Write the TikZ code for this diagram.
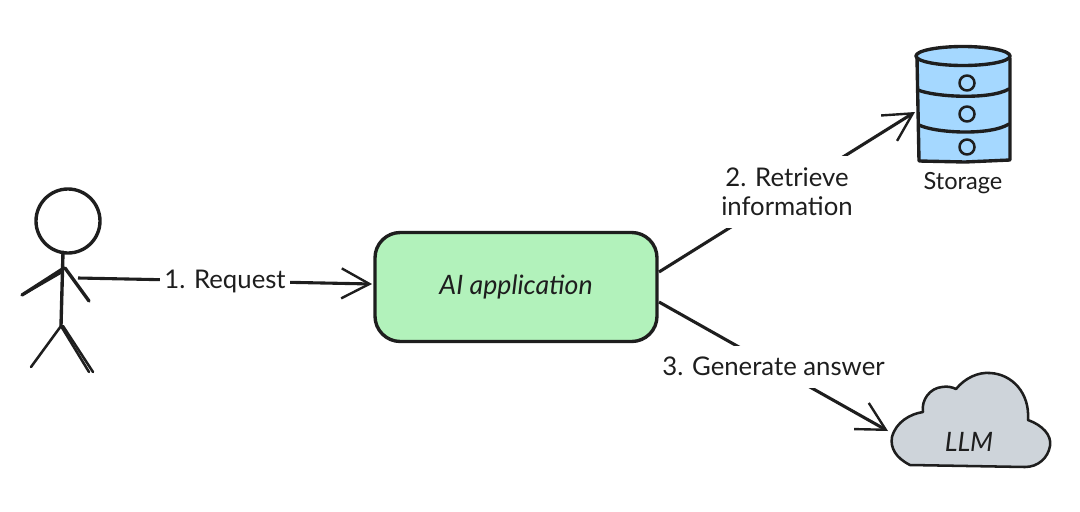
\documentclass[tikz,border=0pt]{standalone}
\usepackage{fontspec}
\setmainfont{Lato}
\usetikzlibrary{arrows.meta}

\definecolor{app_green}{HTML}{B2F2BB}
\definecolor{disk_blue}{HTML}{A5D8FF}
\definecolor{cloud_grey}{HTML}{CED4DA}
\definecolor{ink}{HTML}{1E1E1E}

\tikzset{
  ink_line/.style={draw=ink, line width=2.4pt, line cap=round, line join=round},
  thin_line/.style={draw=ink, line width=1.8pt, line cap=round, line join=round},
  flow/.style={draw=ink, line width=2.2pt, -{Straight Barb[length=7mm, width=7.5mm, line width=1.7pt]}},
  step_label/.style={fill=white, font=\fontsize{18.3}{20.6}\selectfont, text=ink, align=center, inner sep=0pt},
  shape_label/.style={font=\fontsize{19}{22}\selectfont\itshape, text=ink}
}

\begin{document}
\begin{tikzpicture}[x=0.25mm, y=-0.25mm]
\useasboundingbox (0,0) rectangle (1080,511);

% person
\draw[ink_line] (68,221) circle (32);
\draw[ink_line] (63,252) -- (61,326);
\draw[ink_line] (64,268) -- (22,295);
\draw[thin_line] (62,272) -- (24,294);
\draw[ink_line] (65,268) -- (89,301);
\draw[thin_line] (61,326) -- (31,367);
\draw[thin_line] (61,326) -- (89,372);
\draw[thin_line] (63,326) -- (93,372);
\coordinate (person) at (78,278);

% application
\node[draw=ink, fill=app_green, line width=2.4pt, rounded corners=18,
      minimum width=282*0.25mm, minimum height=109*0.25mm, shape_label] (app) at (516,287) {AI application};
\coordinate (app_in) at (372,284);
\coordinate (app_up) at (659,272);
\coordinate (app_down) at (659,302);

% storage
\fill[disk_blue] (918,56) -- (1010,56) -- (1010,161) -- (918,161) -- cycle;
\draw[ink_line, fill=disk_blue] (963,56) ellipse (47 and 9.5);
\draw[ink_line] (917,58) -- (919,161) -- (965,162) -- (1010,160) -- (1010,58);
\draw[ink_line] (918,90) .. controls (935,97) and (990,100) .. (1009,89);
\draw[ink_line] (919,125) .. controls (935,133) and (990,136) .. (1009,124);
\foreach \holey in {83,114,147}
  \draw[thin_line] (967,\holey) circle (7.5);
\node[font=\fontsize{16.8}{20}\selectfont, text=ink] (storage_label) at (963,183) {Storage};
\coordinate (storage_in) at (915,112);

% cloud
\draw[thin_line, fill=cloud_grey] (910,465) .. controls (896,458) and (890,448) .. (892,437)
  .. controls (896,422) and (910,414) .. (923,412)
  .. controls (921,400) and (930,388) .. (942,387)
  .. controls (947,386) and (952,387) .. (956,389)
  .. controls (965,378) and (978,372) .. (990,373)
  .. controls (1012,374) and (1030,393) .. (1028,420)
  .. controls (1042,425) and (1052,435) .. (1050,446)
  .. controls (1048,458) and (1038,467) .. (1025,467)
  -- (910,465) -- cycle;
\node[shape_label] (llm) at (969,442) {LLM};
\coordinate (llm_in) at (888,431);

% connectors
\draw[flow] (person) -- node[step_label, minimum width=130*0.25mm, minimum height=30*0.25mm] (request) {1. Request} (app_in);
\draw[flow] (app_up) -- node[step_label, minimum height=72*0.25mm] (retrieve) {2. Retrieve\\information} (storage_in);
\draw[flow] (app_down) -- node[step_label, minimum height=42*0.25mm] (generate) {3. Generate answer} (llm_in);

\end{tikzpicture}
\end{document}
